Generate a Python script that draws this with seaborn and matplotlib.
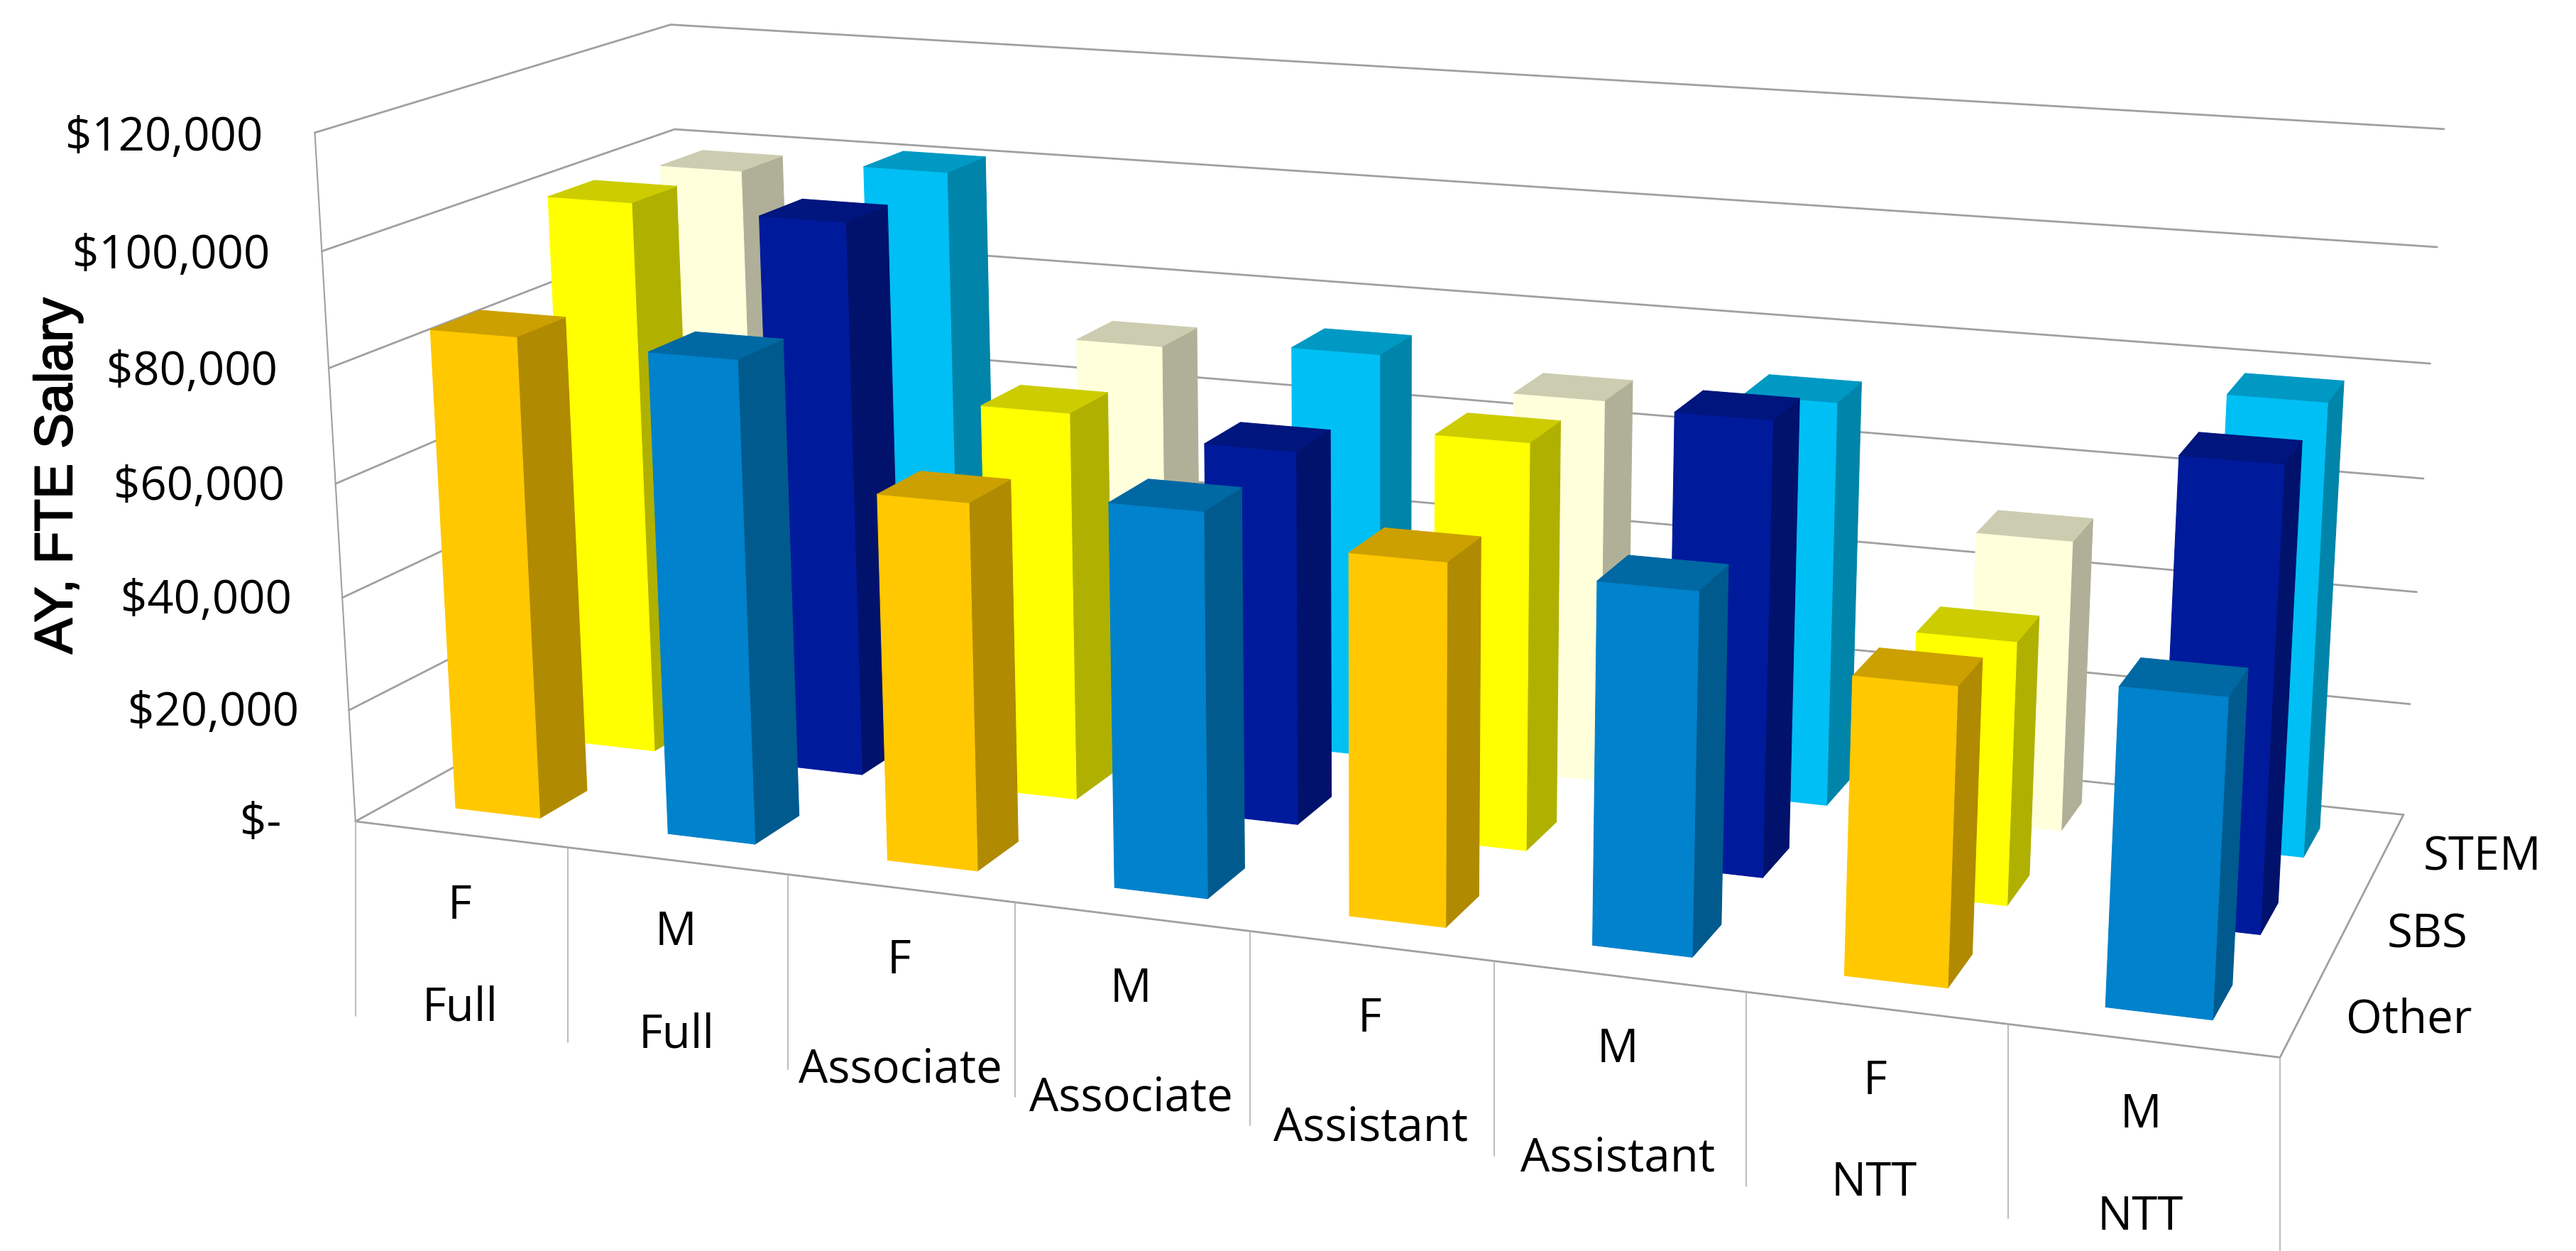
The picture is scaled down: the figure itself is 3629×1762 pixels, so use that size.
import numpy as np
import seaborn as sns
import matplotlib
matplotlib.use('Agg')
import matplotlib.pyplot as plt
import matplotlib.patheffects as pe
from matplotlib.colors import LinearSegmentedColormap
from matplotlib.lines import Line2D

sns.set_theme(style="white")
plt.rcParams['font.family'] = ['Open Sans', 'DejaVu Sans']

# chart values
genders = ['F', 'M', 'F', 'M', 'F', 'M', 'F', 'M']
ranks = ['Full', 'Full', 'Associate', 'Associate', 'Assistant', 'Assistant', 'NTT', 'NTT']
series_names = ['Other', 'SBS', 'STEM']
other_salary = [85000, 84300, 63500, 65700, 61100, 60300, 49000, 51500]
sbs_salary = [100400, 99700, 69300, 66000, 71000, 78200, 44800, 77900]
stem_salary = [98800, 101200, 72300, 74000, 69000, 72000, 51200, 78700]
salary_ticks = [0, 20000, 40000, 60000, 80000, 100000, 120000]
tick_labels = ['$-  ', '$20,000', '$40,000', '$60,000', '$80,000', '$100,000', '$120,000']

# one colour per series, F then M
female_colors = sns.color_palette(['#FFC800', '#FFFF00', '#FFFFDC'])
male_colors = sns.color_palette(['#0082CC', '#001A9C', '#00BFF5'])

W, H = 3630, 1762
BAR_W = 0.4

# where known points of the chart box sit in the picture, used to get the camera
camera_points = [
    ((0, 0, 0), (501, 1156)), ((1, 0, 0), (800, 1195)), ((7, 0, 0), (2829, 1443)),
    ((8, 0, 0), (3212, 1489)), ((8, 3, 0), (3386, 1147)), ((8, 3, 120000), (3443, 182)),
    ((8, 3, 100000), (3433, 348)), ((8, 3, 80000), (3424, 512)), ((0, 3, 120000), (945, 35)),
    ((0, 3, 100000), (950, 182)), ((0, 0, 120000), (443, 187)), ((0, 0, 100000), (454, 353)),
]
# the rank labels do not sit quite evenly below the floor edge
rank_nudge = [-5, -2, -9, -5, -2, 2, 16, 18]


def fit_camera(points):
    """Solve the 3x4 projection from data space to display pixels."""
    rows = []
    for (x, y, z), (u, v) in points:
        v = H - v
        p = [x, y, z / 15000, 1]
        rows.append(p + [0, 0, 0, 0] + [-u * c for c in p])
        rows.append([0, 0, 0, 0] + p + [-v * c for c in p])
    _, _, vt = np.linalg.svd(np.array(rows, dtype=float))
    cam = vt[-1].reshape(3, 4)
    if cam[2, 3] < 0:
        cam = -cam
    return cam @ np.diag([1, 1, 1 / 15000, 1])


def bar_faces(color):
    """Colours for bottom, top, front, back, left, right of one bar."""
    none = (0, 0, 0, 0)
    top = tuple(c * 0.8 for c in color) + (1,)
    side = tuple(c * 0.69 for c in color) + (1,)
    return [none, top, tuple(color) + (1,), none, none, side]


fig = plt.figure(figsize=(W / 100, H / 100), dpi=100)

# background wash towards the top right corner
bg = fig.add_axes([0, 0, 1, 1], zorder=0)
xx, yy = np.meshgrid(np.linspace(0, 1, 400), np.linspace(1, 0, 200))
wash = np.clip((xx + 0.5 * yy - 0.4) / 1.1, 0, 1)
cmap = LinearSegmentedColormap.from_list('wash', ['#FFFFFF', '#FFFDF9', '#FFF8EA', '#FDEBC8'])
bg.imshow(wash, cmap=cmap, aspect='auto', extent=[0, 1, 0, 1], vmin=0, vmax=1)
bg.axis('off')

side = W / H
ax = fig.add_axes([0, (1 - side) / 2, 1, side], projection='3d', zorder=1, computed_zorder=False)
ax.set_axis_off()
ax.apply_aspect()

pixel_cam = fit_camera(camera_points)
to_view = ax.transData.inverted().get_matrix()
cam = to_view @ pixel_cam
M = np.vstack([cam[0], cam[1], [0, 0, 0, -1], cam[2]])
ax.get_proj = lambda: M


def place(x, y, z):
    """Figure fractions of a data point."""
    u, v, w = pixel_cam @ np.array([x, y, z, 1.0])
    return u / w / W, v / w / H


def label(x, y, z, text, dx=0, dy=0, **kw):
    fx, fy = place(x, y, z)
    fig.text(fx + dx / W, fy + dy / H, text, va='center', fontsize=47, color='black', zorder=5, **kw)


# box lines
grid_kw = dict(color='#A0A0A0', lw=2.0, zorder=1)
for z in salary_ticks[1:]:
    ax.plot([0, 0, 8], [0, 3, 3], [z, z, z], **grid_kw)
ax.plot([0, 0], [0, 0], [0, 120000], color='#A0A0A0', lw=1.5, zorder=1)
ax.plot([0, 0, 8, 8], [3, 0, 0, 3], [0, 0, 0, 0], **grid_kw)
ax.plot([0, 8], [3, 3], [0, 0], **grid_kw)
for i in range(9):
    fx, fy = place(i, 0, 0)
    fig.add_artist(Line2D([fx, fx], [fy, fy - 274 / H], color='#B0B0B0', lw=1.2, zorder=2))

# bars, back row first
rows = [other_salary, sbs_salary, stem_salary]
order = 2
for r in [2, 1, 0]:
    for i, val in enumerate(rows[r]):
        base = female_colors[r] if genders[i] == 'F' else male_colors[r]
        faces = bar_faces(base)
        ax.bar3d(i + 0.3, r + 0.3, 0, BAR_W, BAR_W, val, color=faces, shade=False,
                 edgecolors=faces, linewidth=0.8, zorder=order)
        order += 1

# text
for z, text in zip(salary_ticks, tick_labels):
    label(-0.24, 0, z, text, dy=-13, ha='right')
for i in range(8):
    label(i + 0.5, 0, -12000, genders[i], dx=-7 + 1.3 * i, dy=-8 + i, ha='center')
    label(i + 0.5, 0, -30000, ranks[i], dx=-13 + 3 * i, dy=-8 + rank_nudge[i], ha='center')
for r, name in enumerate(series_names):
    label(8.2, r + 0.5, 0, name, dx=-16, dy=-3, ha='left')

fig.text(0.0225, 0.6196, 'AY, FTE Salary', rotation=90, ha='center', va='center', fontsize=54,
         family='Liberation Sans', color='black', zorder=5,
         path_effects=[pe.withStroke(linewidth=1.5, foreground='black')])

fig.savefig('out.png', dpi=100)
